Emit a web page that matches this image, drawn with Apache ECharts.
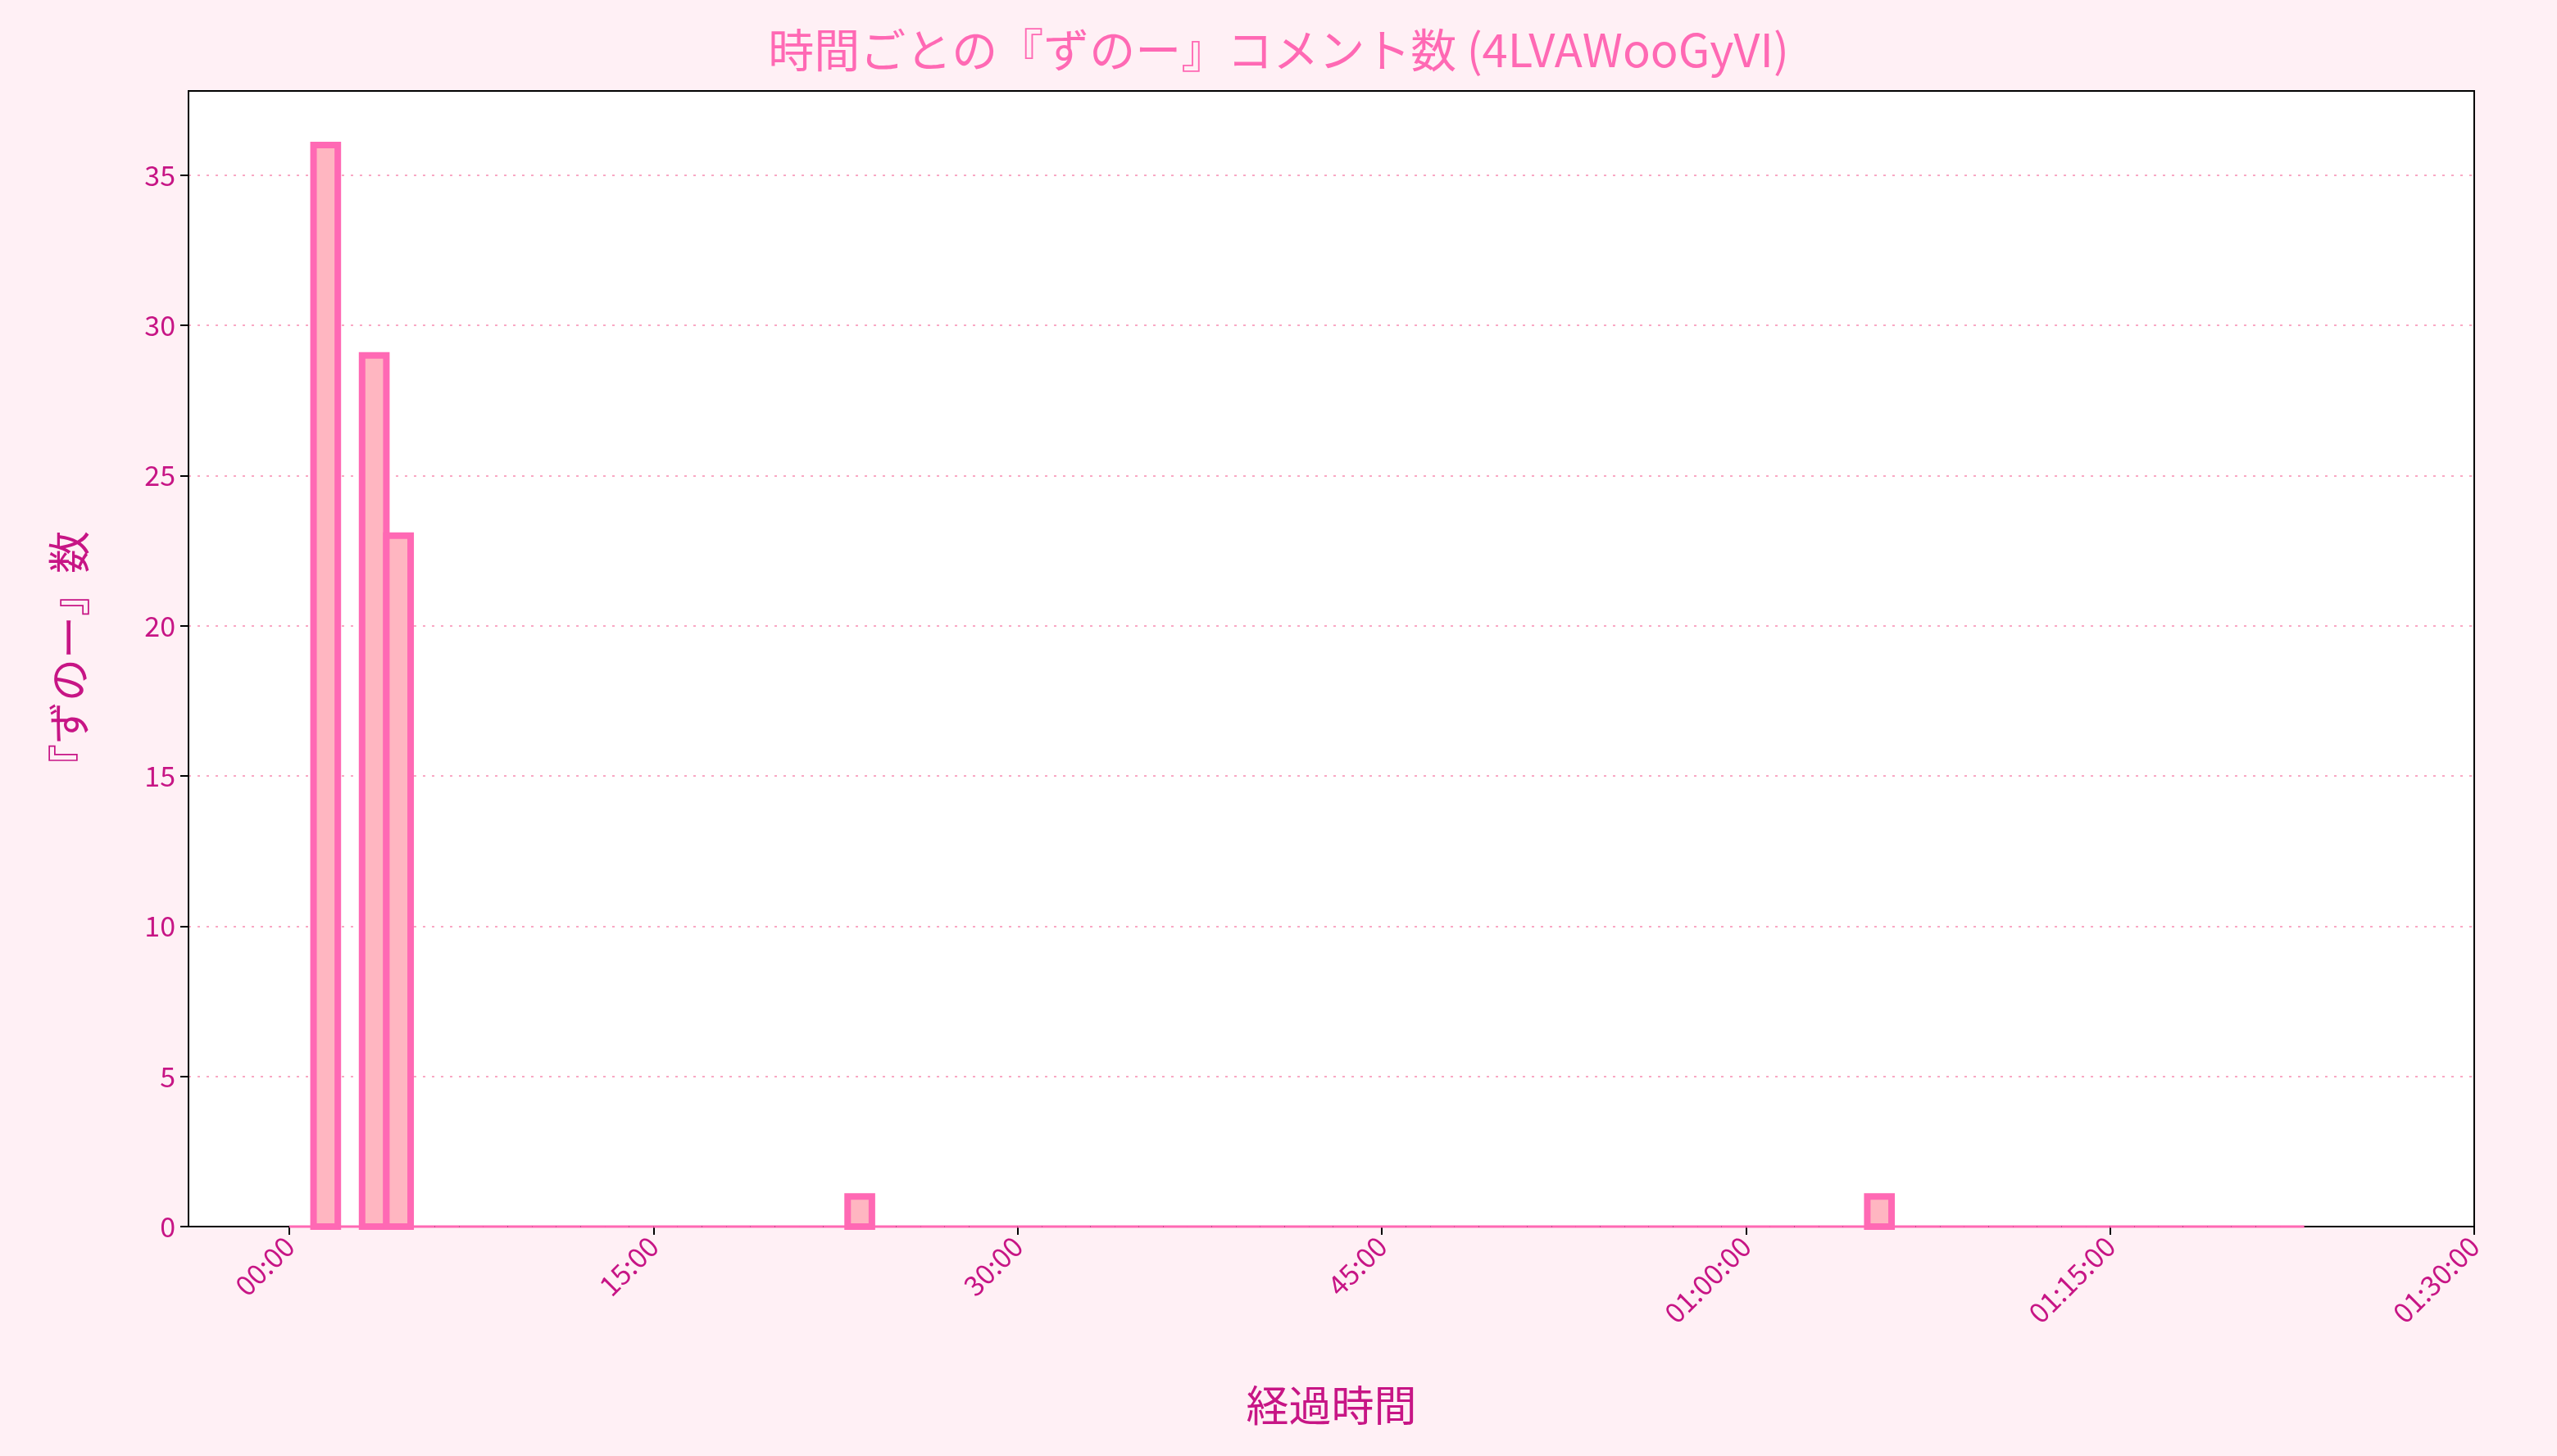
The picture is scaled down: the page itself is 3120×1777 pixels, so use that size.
<!DOCTYPE html>
<html><head><meta charset="utf-8">
<script src="https://cdn.jsdelivr.net/npm/echarts@6/dist/echarts.min.js"></script>
<style>html,body{margin:0;background:#fff0f5}#c{width:3120px;height:1777px}</style>
</head><body><div id="c"></div>
<script>
// counts per minute bin (minute index 0..82)
const minuteBins = Array.from({length:83},(_,i)=>i);
const counts = [0,36,0,29,23,0,0,0,0,0,0,0,0,0,0,0,0,0,0,0,0,0,0,1,0,0,0,0,0,0,0,0,0,0,0,0,0,0,0,0,0,0,0,0,0,0,0,0,0,0,0,0,0,0,0,0,0,0,0,0,0,0,0,0,0,1,0,0,0,0,0,0,0,0,0,0,0,0,0,0,0,0,0];
const xTicks = [0,15,30,45,60,75,90];
const yTicks = [0,5,10,15,20,25,30,35];
const font = '"Noto Sans CJK JP","Noto Sans",sans-serif';
function fmt(m){const h=Math.floor(m/60),mm=m%60;const p=n=>String(n).padStart(2,'0');return h>0?`${p(h)}:${p(mm)}:00`:`${p(mm)}:00`;}
const chart = echarts.init(document.getElementById('c'));
chart.setOption({
  backgroundColor:'#fff0f5',
  title:{text:'時間ごとの『ずのー』コメント数 (4LVAWooGyVI)',left:'center',top:28,textStyle:{color:'#ff69b4',fontSize:56,fontWeight:'normal',fontFamily:font}},
  grid:{left:230,right:101,top:111,bottom:280,show:true,backgroundColor:'#fff',borderColor:'#000',borderWidth:2},
  xAxis:{type:'value',min:-4.15,max:90,interval:15,
    name:'経過時間',nameLocation:'middle',nameGap:192,nameTextStyle:{color:'#c71585',fontSize:52,fontFamily:font},
    axisLine:{show:true,onZero:false,lineStyle:{color:'#000',width:2}},
    splitLine:{show:false},
    axisLabel:{rotate:45,color:'#c71585',fontSize:34,fontFamily:font,margin:18,
      customValues:xTicks,formatter:v=>xTicks.includes(v)?fmt(v):''},
    axisTick:{show:true,customValues:xTicks,length:10,lineStyle:{color:'#000',width:2}}},
  yAxis:{type:'value',min:0,max:37.8,interval:5,
    name:'『ずのー』数',nameLocation:'middle',nameGap:120,nameTextStyle:{color:'#c71585',fontSize:52,fontFamily:font},
    axisLine:{show:true,onZero:false,lineStyle:{color:'#000',width:2}},axisTick:{show:true,length:10,lineStyle:{color:'#000',width:2}},
    axisLabel:{color:'#c71585',fontSize:34,fontFamily:font,margin:16,showMaxLabel:false,formatter:v=>yTicks.includes(v)?String(v):''},
    splitLine:{show:true,showMaxLine:false,showMinLine:false,lineStyle:{color:'#f9a8c4',type:[3,8],width:2}}},
  series:[{type:'custom',z:1,
    data:minuteBins.map((m,i)=>[m,counts[i]]),
    renderItem:(params,api)=>{
      const x0=api.value(0),v=api.value(1);
      const p0=api.coord([x0,0]),p1=api.coord([x0+1,v]);
      return {type:'rect',shape:{x:p0[0],y:p1[1],width:p1[0]-p0[0],height:p0[1]-p1[1]},
        style:{fill:'#ffb6c1',stroke:'#ff69b4',lineWidth:v>0?8:3}};
    }}]
});
</script></body></html>
